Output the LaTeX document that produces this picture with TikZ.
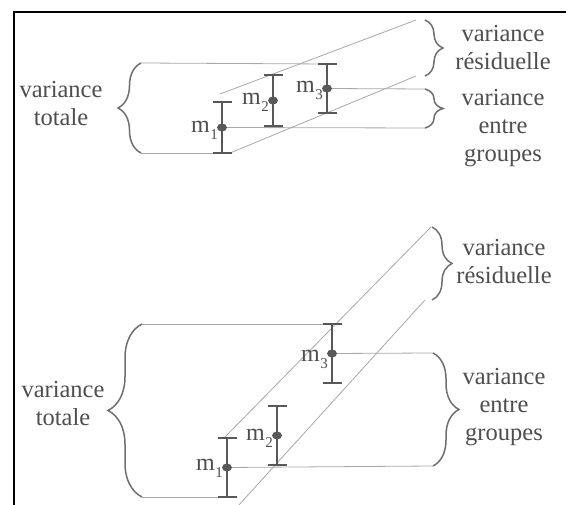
\documentclass[tikz,border=0pt]{standalone}
\usepackage{fontspec}
\setmainfont{Liberation Serif}
\usetikzlibrary{decorations.pathreplacing,shapes.geometric}
\definecolor{bargray}{HTML}{585858}
\definecolor{linegray}{HTML}{A8A8A8}
\definecolor{bracegray}{HTML}{6E6E6E}
\definecolor{txtgray}{HTML}{4E4E4E}
\newcommand\mlab[1]{m\kern0.5pt\raisebox{-7pt}{\fontsize{15}{15}\selectfont #1}}
\newcommand\ebardef[4]{%
  \coordinate (#1t) at (#2,#3);
  \coordinate (#1b) at (#2,#4);
  \coordinate (#1c) at (#2,{(#3+#4)/2});}
\newcommand\ebardraw[1]{%
  \draw[errbar] (#1t) -- (#1b);
  \draw[errbar] ([xshift=-9.5pt]#1t) -- ([xshift=9.5pt]#1t);
  \draw[errbar] ([xshift=-9.5pt]#1b) -- ([xshift=9.5pt]#1b);
  \node[meandot] (#1) at (#1c) {};}
\begin{document}
\begin{tikzpicture}[x=1pt,y=-1pt,
  thinline/.style={draw=linegray,line width=0.8pt},
  errbar/.style={draw=bargray,line width=2.6pt},
  meandot/.style={ellipse,fill=bargray,minimum width=10pt,minimum height=8pt,inner sep=0pt},
  bracestyle/.style={draw=bracegray,line width=1.5pt,decorate,decoration={brace,amplitude=#1}},
  txt/.style={font=\fontsize{24.5}{28}\selectfont,text=txtgray,align=center,inner sep=0pt,anchor=base},
  mlabel/.style={font=\fontsize{24}{28}\selectfont,text=txtgray,anchor=base east,inner sep=0pt}]
\useasboundingbox (0,0) rectangle (571,505);
% frame
\draw[black,line width=2pt] (14,506) coordinate (f1) -- (14,12.5) coordinate (f2) -- (566,12.5) coordinate (f3);

% ---------- top diagram ----------
\ebardef{a1}{222}{102}{153}
\ebardef{a2}{273}{75}{126}
\ebardef{a3}{327}{64}{113}
\coordinate (LT) at (141,63);
\coordinate (LB) at (141,153);
\coordinate (RAt) at (425,20);
\coordinate (RAb) at (425,76);
\coordinate (RBt) at (425,89);
\coordinate (RBb) at (425,128);
\coordinate (sAa) at (220,94);
\coordinate (sAb) at (416,20);
\coordinate (sBa) at (230,153);
\coordinate (sBb) at (416,76);
\draw[thinline] (LT) -- (a3t);
\draw[thinline] (LB) -- (a1b);
\draw[thinline] (a3c) -- (RBt);
\draw[thinline] (a1c) -- (RBb);
\draw[thinline] (sAa) -- (sAb);
\draw[thinline] (sBa) -- (sBb);
\draw[bracestyle=23pt] (LB) -- (LT);
\draw[bracestyle=18pt] (RAt) -- (RAb);
\draw[bracestyle=18pt] (RBt) -- (RBb);
\ebardraw{a1}
\ebardraw{a2}
\ebardraw{a3}
\node[mlabel] (la1) at (218,133) {\mlab{1}};
\node[mlabel] (la2) at (269,105) {\mlab{2}};
\node[mlabel] (la3) at (323,93) {\mlab{3}};
\node[txt] (tA) at (61,126) {variance\\totale};
\node[txt] (tB) at (503,70) {variance\\résiduelle};
\node[txt] (tC) at (503,162) {variance\\entre\\groupes};

% ---------- bottom diagram ----------
\ebardef{b1}{227}{438}{497}
\ebardef{b2}{277}{406}{465}
\ebardef{b3}{332}{324}{383}
\coordinate (LLT) at (142,324);
\coordinate (LLB) at (142,497);
\coordinate (RCt) at (432,227);
\coordinate (RCb) at (432,300);
\coordinate (RDt) at (433,353);
\coordinate (RDb) at (433,466);
\coordinate (sCa) at (225,437);
\coordinate (sCb) at (431,227);
\coordinate (sDa) at (238,506);
\coordinate (sDb) at (425,300);
\draw[thinline] (LLT) -- (b3t);
\draw[thinline] (LLB) -- (b1b);
\draw[thinline] (b3c) -- (RDt);
\draw[thinline] (b1c) -- (RDb);
\draw[thinline] (sCa) -- (sCb);
\draw[thinline] (sDa) -- (sDb);
\draw[bracestyle=34pt] (LLB) -- (LLT);
\draw[bracestyle=20pt] (RCt) -- (RCb);
\draw[bracestyle=26pt] (RDt) -- (RDb);
\ebardraw{b1}
\ebardraw{b2}
\ebardraw{b3}
\node[mlabel] (lb1) at (223,470) {\mlab{1}};
\node[mlabel] (lb2) at (273,440) {\mlab{2}};
\node[mlabel] (lb3) at (328,362) {\mlab{3}};
\node[txt] (tD) at (63,425) {variance\\totale};
\node[txt] (tE) at (504,284) {variance\\résiduelle};
\node[txt] (tF) at (504,440) {variance\\entre\\groupes};
\end{tikzpicture}
\end{document}
